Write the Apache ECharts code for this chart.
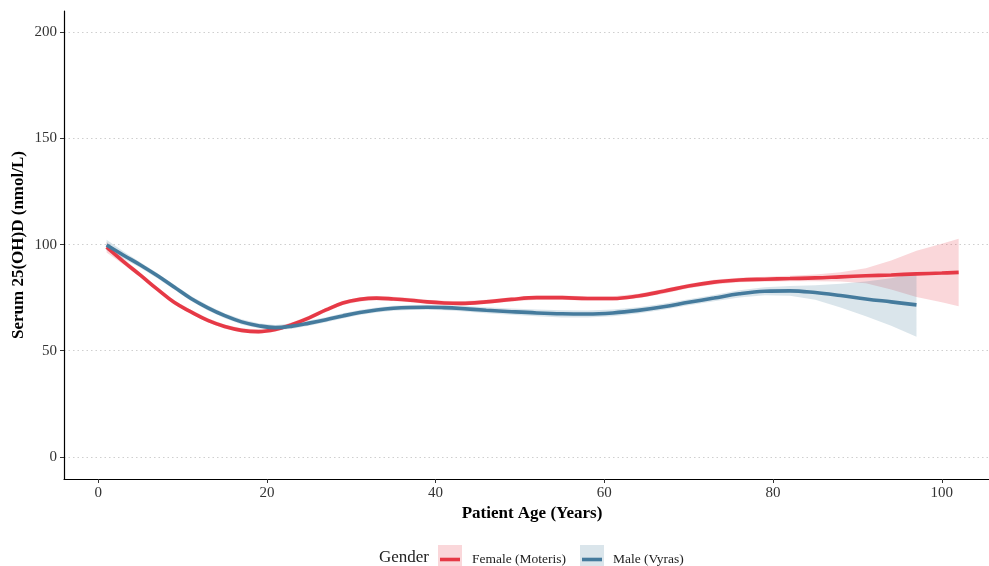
<!DOCTYPE html>
<html>
<head>
<meta charset="utf-8">
<script src="https://cdn.jsdelivr.net/npm/echarts@6/dist/echarts.min.js"></script>
<style>
  html, body { margin: 0; padding: 0; background: #ffffff; }
  #chart { width: 989px; height: 566px; }
</style>
</head>
<body>
<div id="chart"></div>
<script>
// Smoothed serum 25(OH)D by age, with confidence ribbons
const ageF = [1, 3, 5, 7, 9, 11, 13, 15, 17, 19, 21, 23, 25, 27, 29, 31, 33, 35, 37, 39, 41, 43, 46, 49, 52, 55, 58, 61, 64, 67, 70, 73, 76, 79, 82, 85, 88, 91, 94, 97, 100, 102];
const fitF = [98.8, 92.0, 85.6, 79.0, 72.8, 68.3, 64.3, 61.4, 59.6, 59.0, 60.0, 62.4, 65.5, 69.2, 72.5, 74.2, 74.8, 74.4, 73.8, 73.0, 72.5, 72.3, 73.0, 74.2, 75.0, 75.0, 74.6, 74.6, 75.8, 78.0, 80.5, 82.3, 83.3, 83.7, 84.0, 84.3, 84.8, 85.3, 85.7, 86.2, 86.6, 86.9];
const lowF = [96.3, 90.6, 84.5, 78.0, 71.8, 67.3, 63.3, 60.4, 58.6, 58.0, 59.0, 61.4, 64.5, 68.2, 71.5, 73.2, 73.8, 73.4, 72.8, 72.0, 71.5, 71.3, 72.0, 73.2, 74.0, 74.0, 73.5, 73.5, 74.7, 76.9, 79.4, 81.2, 82.2, 82.5, 82.7, 82.7, 82.6, 81.8, 78.9, 75.3, 72.8, 71.0];
const highF = [101.3, 93.4, 86.7, 80.0, 73.8, 69.3, 65.3, 62.4, 60.6, 60.0, 61.0, 63.4, 66.5, 70.2, 73.5, 75.2, 75.8, 75.4, 74.8, 74.0, 73.5, 73.3, 74.0, 75.2, 76.0, 76.0, 75.7, 75.7, 76.9, 79.1, 81.6, 83.4, 84.4, 84.9, 85.3, 85.9, 87.0, 88.8, 92.5, 97.1, 100.4, 102.8];

const ageM = [1, 3, 5, 7, 9, 11, 13, 15, 17, 19, 21, 23, 25, 27, 29, 31, 33, 35, 37, 39, 41, 43, 46, 49, 52, 55, 58, 61, 64, 67, 70, 73, 76, 79, 82, 85, 88, 91, 94, 97];
const fitM = [99.8, 95.0, 90.4, 85.4, 80.0, 74.6, 70.2, 66.5, 63.6, 61.8, 60.9, 61.6, 63.0, 64.6, 66.4, 68.0, 69.2, 70.0, 70.4, 70.5, 70.3, 69.9, 69.1, 68.4, 67.8, 67.4, 67.3, 67.8, 69.0, 70.7, 72.8, 74.8, 76.8, 78.0, 78.2, 77.4, 76.0, 74.4, 73.0, 71.6];
const lowM = [97.3, 93.3, 89.1, 84.2, 78.8, 73.4, 69.0, 65.3, 62.4, 60.6, 59.7, 60.4, 61.8, 63.4, 65.2, 66.8, 68.0, 68.8, 69.2, 69.3, 69.1, 68.6, 67.7, 66.9, 66.2, 65.7, 65.6, 66.2, 67.5, 69.3, 71.4, 73.3, 75.1, 76.1, 75.9, 74.0, 70.4, 66.2, 61.8, 56.6];
const highM = [102.3, 96.7, 91.7, 86.6, 81.2, 75.8, 71.4, 67.7, 64.8, 63.0, 62.1, 62.8, 64.2, 65.8, 67.6, 69.2, 70.4, 71.2, 71.6, 71.7, 71.5, 71.2, 70.5, 69.9, 69.4, 69.1, 69.0, 69.4, 70.5, 72.1, 74.2, 76.3, 78.5, 79.9, 80.5, 80.8, 81.6, 82.6, 84.2, 86.6];

const xTicks = [0, 20, 40, 60, 80, 100];
const yTicks = [0, 50, 100, 150, 200];

const FEMALE = 'Female (Moteris)';
const MALE = 'Male (Vyras)';
const RED = '#E63946';
const BLUE = '#457B9D';
const SERIF = "'Liberation Serif', 'DejaVu Serif', serif";

function pairs(xs, ys) {
  return xs.map((x, i) => [x, ys[i]]);
}

// Ribbon drawn as one polygon: upper edge left-to-right, lower edge back.
function ribbon(name, xs, lo, hi, color) {
  return {
    type: 'custom',
    name: name,
    data: [[xs[0], lo[0]]],
    silent: true,
    renderItem: function (params, api) {
      const pts = [];
      for (let i = 0; i < xs.length; i++) pts.push(api.coord([xs[i], hi[i]]));
      for (let i = xs.length - 1; i >= 0; i--) pts.push(api.coord([xs[i], lo[i]]));
      return {
        type: 'polygon',
        shape: { points: pts },
        style: { fill: color, stroke: null }
      };
    }
  };
}

function fitLine(name, xs, ys, color) {
  return {
    type: 'line',
    name: name,
    data: pairs(xs, ys),
    smooth: 0.4,
    showSymbol: false,
    silent: true,
    lineStyle: { color: color, width: 3.6 },
    itemStyle: { color: color }
  };
}

const chart = echarts.init(document.getElementById('chart'), null, { renderer: 'canvas' });

const legendGraphics = [
  { type: 'text', left: 379, top: 549, style: { text: 'Gender', font: "17px " + SERIF, fill: '#222' } },
  { type: 'rect', shape: { x: 438, y: 545, width: 24, height: 24 }, style: { fill: 'rgba(230,57,70,0.2)' } },
  { type: 'line', shape: { x1: 440, y1: 559.5, x2: 460, y2: 559.5 }, style: { stroke: RED, lineWidth: 3.6 } },
  { type: 'text', left: 472, top: 552, style: { text: FEMALE, font: "13.5px " + SERIF, fill: '#222' } },
  { type: 'rect', shape: { x: 580, y: 545, width: 24, height: 24 }, style: { fill: 'rgba(69,123,157,0.2)' } },
  { type: 'line', shape: { x1: 582, y1: 559.5, x2: 602, y2: 559.5 }, style: { stroke: BLUE, lineWidth: 3.6 } },
  { type: 'text', left: 613, top: 552, style: { text: MALE, font: "13.5px " + SERIF, fill: '#222' } }
];

chart.setOption({
  animation: false,
  backgroundColor: '#ffffff',
  grid: { left: 64, right: -11, top: 11, bottom: 87, containLabel: false, outerBoundsMode: 'none' },
  xAxis: {
    type: 'value',
    min: -4.05,
    max: 106.9,
    name: 'Patient Age (Years)',
    nameLocation: 'middle',
    nameGap: 26,
    nameMoveOverlap: false,
    nameTextStyle: { fontFamily: SERIF, fontWeight: 'bold', fontSize: 17, color: '#000' },
    axisLine: { show: true, onZero: false, lineStyle: { color: '#000', width: 1.2 } },
    axisTick: { show: true, length: 4, customValues: xTicks, lineStyle: { color: '#333' } },
    axisLabel: { customValues: xTicks, fontFamily: SERIF, fontSize: 15, color: '#333', margin: 7 },
    splitLine: { show: false }
  },
  yAxis: {
    type: 'value',
    min: -10.4,
    max: 210,
    name: 'Serum 25(OH)D (nmol/L)',
    nameLocation: 'middle',
    nameGap: 37,
    nameMoveOverlap: false,
    nameTextStyle: { fontFamily: SERIF, fontWeight: 'bold', fontSize: 17, color: '#000' },
    axisLine: { show: true, onZero: false, lineStyle: { color: '#000', width: 1.2 } },
    axisTick: { show: true, length: 4, customValues: yTicks, lineStyle: { color: '#333' } },
    axisLabel: { customValues: yTicks, fontFamily: SERIF, fontSize: 15, color: '#333', margin: 7 },
    splitLine: { show: true, lineStyle: { color: '#cfcfcf', type: [1.5, 3], width: 1 } }
  },
  graphic: legendGraphics,
  series: [
    ribbon(FEMALE + ' CI', ageF, lowF, highF, 'rgba(230,57,70,0.2)'),
    fitLine(FEMALE, ageF, fitF, RED),
    ribbon(MALE + ' CI', ageM, lowM, highM, 'rgba(69,123,157,0.2)'),
    fitLine(MALE, ageM, fitM, BLUE)
  ]
});
</script>
</body>
</html>
